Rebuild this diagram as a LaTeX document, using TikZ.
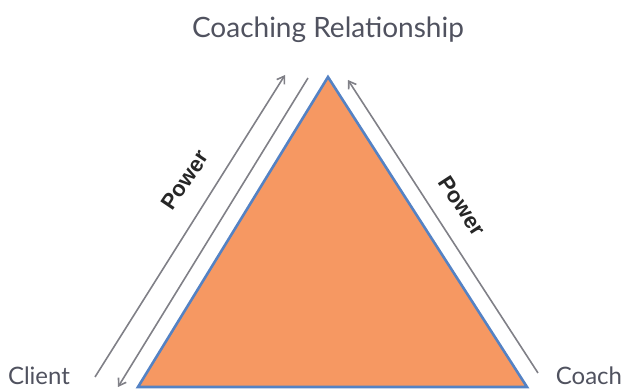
\documentclass[tikz,border=0pt]{standalone}
\usepackage{fontspec}
\setmainfont{Lato}
\newfontfamily\powerfont{Liberation Sans}
\usetikzlibrary{arrows.meta,positioning}
\definecolor{triorange}{RGB}{246,152,98}
\definecolor{triblue}{RGB}{84,130,196}
\definecolor{arrgray}{RGB}{128,128,135}
\definecolor{labelgray}{RGB}{80,82,95}

\begin{document}
\begin{tikzpicture}[
    x=1pt, y=1pt,
    corner/.style={font=\fontsize{24}{28}\selectfont, text=labelgray, inner sep=0pt, anchor=base},
    power/.style={font=\powerfont\bfseries\fontsize{22}{26}\selectfont, text=black!85, inner sep=0pt},
    tri/.style={draw=triblue, line width=2.6pt, fill=triorange, line join=miter},
    arr/.style={-{Straight Barb[length=2.4mm, width=3.2mm]}, draw=arrgray, line width=1.6pt}
  ]
  \useasboundingbox (0,0) rectangle (630,390);
  % triangle corners
  \coordinate (apex) at (328,313);
  \coordinate (clientc) at (138,3);
  \coordinate (coachc) at (527,3);
  \filldraw[tri] (clientc) -- (apex) -- (coachc) -- cycle;
  % labels
  \node[corner, font=\fontsize{28}{32}\selectfont] (rel) at (328,352) {Coaching Relationship};
  \node[corner] (client) at (39,5) {Client};
  \node[corner] (coach) at (589,5) {Coach};
  % arrow ends
  \coordinate (lo1) at (95,13);
  \coordinate (lo2) at (285,315);
  \coordinate (li1) at (308,312);
  \coordinate (li2) at (118,3);
  \coordinate (ro1) at (538,17);
  \coordinate (ro2) at (348,310);
  \draw[arr] (lo1) -- (lo2);
  \draw[arr] (li1) -- (li2);
  \draw[arr] (ro1) -- (ro2);
  \node[power, rotate=56] (powl) at (185,210) {Power};
  \node[power, rotate=-57] (powr) at (462,184) {Power};
\end{tikzpicture}
\end{document}
